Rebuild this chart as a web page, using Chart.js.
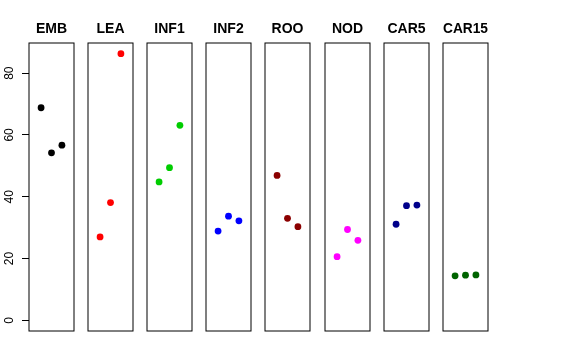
<!DOCTYPE html>
<html>
<head>
<meta charset="utf-8">
<script src="https://cdn.jsdelivr.net/npm/chart.js@4/dist/chart.umd.min.js"></script>
<style>
html,body{margin:0;padding:0;background:#fff;}
#wrap{position:relative;width:576px;height:360px;background:#fff;overflow:hidden;}
canvas{position:absolute;top:0;}
</style>
</head>
<body>
<div id="wrap"></div>
<script>
// ---- data ----
const categories = ['EMB', 'LEA', 'INF1', 'INF2', 'ROO', 'NOD', 'CAR5', 'CAR15'];
const EMB   = [68.8, 54.2, 56.7];
const LEA   = [27.0, 38.1, 86.3];
const INF1  = [44.8, 49.4, 63.1];
const INF2  = [28.9, 33.7, 32.2];
const ROO   = [46.9, 33.0, 30.3];
const NOD   = [20.6, 29.4, 25.9];
const CAR5  = [31.1, 37.1, 37.3];
const CAR15 = [14.4, 14.6, 14.7];
const yTicks = [0, 20, 40, 60, 80];
const colors = ['#000000', '#FF0000', '#00CD00', '#0000FF', '#8B0000', '#FF00FF', '#00008B', '#006400'];

const panelVals = [EMB, LEA, INF1, INF2, ROO, NOD, CAR5, CAR15];

// y limits like R: c(0, max) extended by 4%
const allVals = panelVals.flat();
const yLo = 0, yHi = Math.max(...allVals);
const ext = 0.04 * (yHi - yLo);
const yMin = yLo - ext, yMax = yHi + ext;

// ---- layout ----
const FIRST = 28.7, STEP = 59.19, BOX_W = 45, PAD_R = 10, PAD_L = 10;
const FONT = "'Liberation Sans', Arial, Helvetica, sans-serif";

const boxPlugin = {
  id: 'box',
  afterDraw(chart) {
    const ca = chart.chartArea, ctx = chart.ctx;
    ctx.save();
    ctx.strokeStyle = '#000';
    ctx.lineWidth = 1;
    ctx.strokeRect(ca.left, ca.top, ca.right - ca.left, ca.bottom - ca.top);
    ctx.restore();
  }
};
const yLabelPlugin = {
  id: 'ylabels',
  afterDraw(chart) {
    const s = chart.scales.y;
    if (!s || !s.options.display) return;
    const ctx = chart.ctx;
    ctx.save();
    ctx.fillStyle = '#000';
    ctx.font = '12px ' + FONT;
    ctx.textAlign = 'center';
    ctx.textBaseline = 'alphabetic';
    s.ticks.forEach(t => {
      const y = s.getPixelForValue(t.value);
      ctx.save();
      ctx.translate(12.7, y);
      ctx.rotate(-Math.PI / 2);
      ctx.fillText(String(t.value), 0, 0);
      ctx.restore();
    });
    ctx.restore();
  }
};

const wrap = document.getElementById('wrap');
panelVals.forEach((vals, i) => {
  const isFirst = i === 0;
  const boxLeft = Math.round(FIRST + i * STEP);
  const leftSpace = isFirst ? boxLeft : PAD_L;
  const cv = document.createElement('canvas');
  cv.width = leftSpace + BOX_W + PAD_R;
  cv.height = 360;
  cv.style.left = (boxLeft - leftSpace) + 'px';
  wrap.appendChild(cv);

  const yScale = {
    type: 'linear',
    min: yMin,
    max: yMax,
    display: isFirst,
    afterBuildTicks: s => { s.ticks = yTicks.map(v => ({ value: v })); },
    ticks: { display: true, color: 'rgba(0,0,0,0)', font: { size: 6 } },
    grid: { drawOnChartArea: false, drawTicks: true, tickLength: 7, color: '#000', lineWidth: 1 },
    border: { display: false }
  };
  if (isFirst) yScale.afterFit = s => { s.width = boxLeft; };

  new Chart(cv, {
    type: 'scatter',
    data: {
      datasets: [{
        data: vals.map((v, j) => ({ x: j + 1, y: v })),
        backgroundColor: colors[i],
        borderColor: colors[i],
        borderWidth: 0,
        pointRadius: 3.4,
        pointHoverRadius: 3.4
      }]
    },
    options: {
      responsive: false,
      animation: false,
      devicePixelRatio: 1,
      events: [],
      layout: { padding: { left: isFirst ? 0 : PAD_L, right: PAD_R, top: 0, bottom: 29 } },
      plugins: {
        legend: { display: false },
        tooltip: { enabled: false },
        title: {
          display: true,
          text: categories[i],
          fullSize: false,
          color: '#000',
          font: { family: FONT, size: 14, weight: 'bold' },
          padding: { top: 20.9, bottom: 5.3 }
        }
      },
      scales: {
        x: { type: 'linear', min: -0.16, max: 4.16, display: false },
        y: yScale
      }
    },
    plugins: [boxPlugin, yLabelPlugin]
  });
});
</script>
</body>
</html>
